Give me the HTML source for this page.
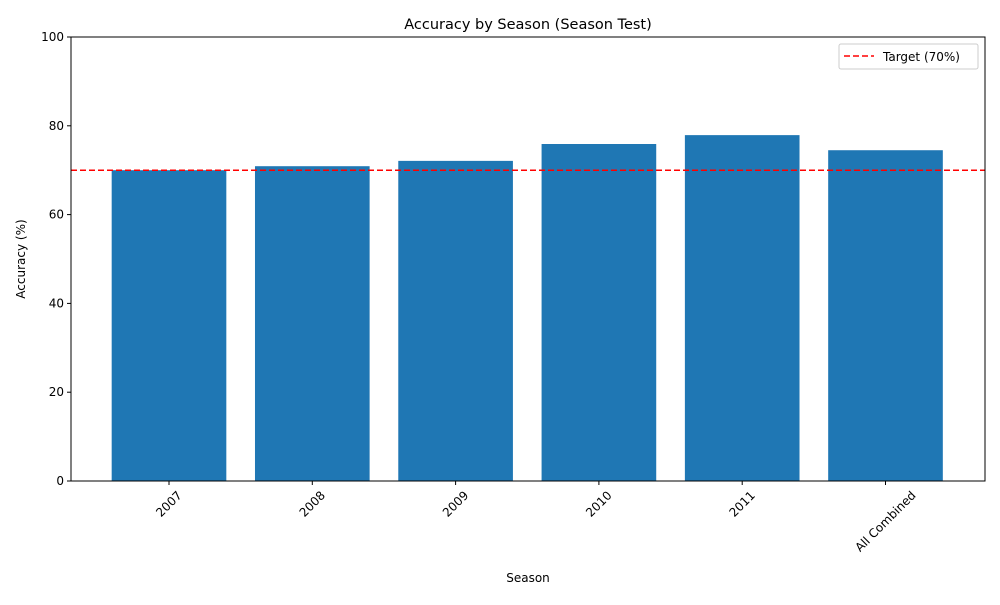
<!DOCTYPE html>
<html><head><meta charset="utf-8"><style>
body{margin:0;background:#fff;font-family:"Liberation Sans","DejaVu Sans",sans-serif;}
svg text{font-family:"DejaVu Sans","Liberation Sans",sans-serif;}
</style></head><body>
<svg id="chart" width="1000" height="600" xmlns="http://www.w3.org/2000/svg">
<rect width="1000" height="600" fill="#fff"/>
<text x="528" y="29" font-size="14.5" text-anchor="middle">Accuracy by Season (Season Test)</text>
<g id="bars"></g>
<g id="yticks"></g>
<g id="xticks"></g>
<line x1="71" y1="170" x2="985" y2="170" id="target" stroke="#ff0000" stroke-width="1.5" stroke-dasharray="6,3"/>
<rect x="71" y="37" width="914" height="444" fill="none" stroke="#000" stroke-width="1"/>
<text x="528" y="582" font-size="12" text-anchor="middle">Season</text>
<text transform="translate(25,259) rotate(-90)" font-size="12" text-anchor="middle">Accuracy (%)</text>
<g>
<rect x="839" y="44" width="139" height="25" fill="#fff" stroke="#ccc" rx="2"/>
<line x1="844" y1="56" x2="874" y2="56" stroke="#ff0000" stroke-width="1.5" stroke-dasharray="6,3"/>
<text x="883" y="61" font-size="12">Target (70%)</text>
</g>
</svg>
<script>
const categories=["2007","2008","2009","2010","2011","All Combined"];
const accuracy=[70.0,70.9,72.1,75.9,77.9,74.5];
const yTicks=[0,20,40,60,80,100];
const target=70;
const ns="http://www.w3.org/2000/svg";
const L=71,R=985,T=37,B=481;
const step=143.3, x0=169;
function xs(i){return x0+i*step;}
function ys(v){return B-(v/100)*(B-T);}
const bw=0.8*step;
const bars=document.getElementById('bars');
categories.forEach((c,i)=>{
 const r=document.createElementNS(ns,'rect');
 r.setAttribute('x',xs(i)-bw/2);r.setAttribute('y',ys(accuracy[i]));
 r.setAttribute('width',bw);r.setAttribute('height',B-ys(accuracy[i]));
 r.setAttribute('fill','#1f77b4');
 
 
 bars.appendChild(r);
 const xt=document.getElementById('xticks');
 const tl=document.createElementNS(ns,'line');
 tl.setAttribute('x1',xs(i));tl.setAttribute('x2',xs(i));tl.setAttribute('y1',B);tl.setAttribute('y2',B+4);tl.setAttribute('stroke','#000');
 xt.appendChild(tl);
 const t=document.createElementNS(ns,'text');
 t.setAttribute('font-size','12');t.setAttribute('text-anchor','middle');
 t.setAttribute('dy','4');
 t.textContent=c;
 
 
 xt.appendChild(t);
 const w=t.getComputedTextLength();
 const h=(w+12)*Math.SQRT1_2;
 t.setAttribute('transform',`translate(${xs(i)},${B+8+h/2}) rotate(-45)`);
});
const yt=document.getElementById('yticks');
yTicks.forEach(v=>{
 const l=document.createElementNS(ns,'line');
 l.setAttribute('x1',L-4);l.setAttribute('x2',L);l.setAttribute('y1',ys(v));l.setAttribute('y2',ys(v));l.setAttribute('stroke','#000');
 yt.appendChild(l);
 const t=document.createElementNS(ns,'text');
 t.setAttribute('x',L-7);t.setAttribute('y',ys(v)+4);t.setAttribute('font-size','12');t.setAttribute('text-anchor','end');
 t.textContent=v;
 
 
 yt.appendChild(t);
});
const tg=document.getElementById('target');
tg.setAttribute('y1',ys(target));tg.setAttribute('y2',ys(target));
</script>
</body></html>
